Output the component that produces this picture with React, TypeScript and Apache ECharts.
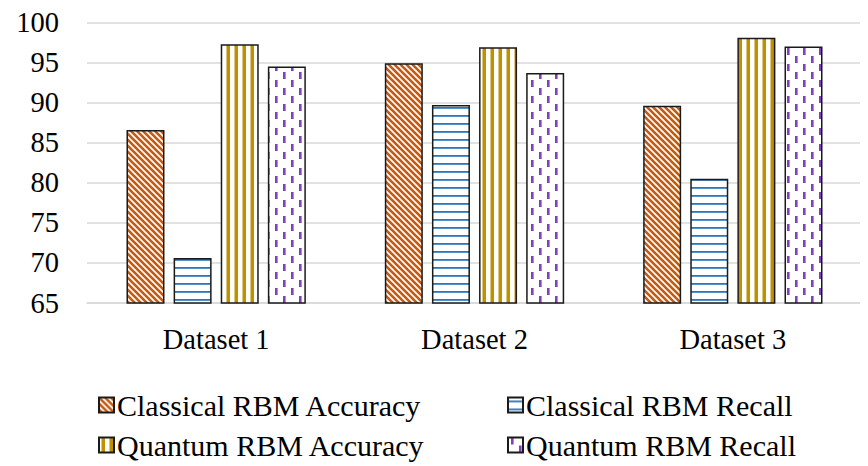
import React, { useEffect, useRef } from "react";
import * as echarts from "echarts";

const categories = ["Dataset 1", "Dataset 2", "Dataset 3"];
const seriesNames = [
  "Classical RBM Accuracy",
  "Classical RBM Recall",
  "Quantum RBM Accuracy",
  "Quantum RBM Recall",
];
const classicalAccuracy = [86.6, 94.9, 89.6];
const classicalRecall = [70.6, 89.7, 80.5];
const quantumAccuracy = [97.3, 96.9, 98.1];
const quantumRecall = [94.5, 93.7, 97.0];
const yTicks = { min: 65, max: 100, interval: 5 };

function makeCanvas(w: number, h: number, draw: (ctx: CanvasRenderingContext2D) => void) {
  const c = document.createElement("canvas");
  c.width = w;
  c.height = h;
  const ctx = c.getContext("2d")!;
  ctx.fillStyle = "#ffffff";
  ctx.fillRect(0, 0, w, h);
  draw(ctx);
  return c;
}

function diagPattern() {
  const s = 6;
  return makeCanvas(s, s, (ctx) => {
    ctx.strokeStyle = "#C55A11";
    ctx.lineWidth = 2.6;
    ctx.beginPath();
    for (let k = -1; k <= 1; k++) {
      ctx.moveTo(k * s - 1, -1);
      ctx.lineTo(k * s + s + 1, s + 1);
    }
    ctx.stroke();
  });
}

function horizPattern() {
  return makeCanvas(8, 8, (ctx) => {
    ctx.fillStyle = "#2E75B6";
    ctx.fillRect(0, 3, 8, 1.8);
  });
}

function vertPattern() {
  return makeCanvas(8, 8, (ctx) => {
    ctx.fillStyle = "#BF9000";
    ctx.fillRect(2.5, 0, 3.5, 8);
  });
}

function dashPattern() {
  return makeCanvas(16, 16, (ctx) => {
    ctx.fillStyle = "#7F3FBF";
    ctx.fillRect(3, 0, 2.6, 7);
    ctx.fillRect(11, 8, 2.6, 7);
  });
}

export default function App() {
  const ref = useRef<HTMLDivElement>(null);
  useEffect(() => {
    if (!ref.current) return;
    const chart = echarts.init(ref.current, undefined, { renderer: "svg" });
    const patterns = [diagPattern(), horizPattern(), vertPattern(), dashPattern()];
    const datas = [classicalAccuracy, classicalRecall, quantumAccuracy, quantumRecall];
    const font = "'Liberation Serif', 'Times New Roman', serif";
    const series = seriesNames.map((name, i) => ({
      name,
      type: "bar",
      data: datas[i],
      barWidth: 38,
      barGap: "24%",
      itemStyle: {
        color: { image: patterns[i], repeat: "repeat" },
        borderColor: "#1a1a1a",
        borderWidth: 1.5,
      },
    }));
    const legendPos = [
      { left: 90, top: 382 },
      { left: 499, top: 382 },
      { left: 90, top: 422 },
      { left: 499, top: 422 },
    ];
    const legends = seriesNames.map((name, i) => ({
      data: [name],
      left: legendPos[i].left,
      top: legendPos[i].top,
      padding: 0,
      itemWidth: 15,
      itemHeight: 15,
      icon: "rect",
      textStyle: { fontFamily: font, fontSize: 30, color: "#000", padding: [0, 0, 0, -2] },
    }));
    chart.setOption({
      animation: false,
      grid: { left: 79, right: 6, top: 13, bottom: 163, containLabel: false },
      xAxis: {
        type: "category",
        data: categories,
        axisLine: { show: true, lineStyle: { color: "#d9d9d9", width: 1.5 } },
        axisTick: { show: false },
        axisLabel: { fontFamily: font, fontSize: 28.5, color: "#000", margin: 22 },
      },
      yAxis: {
        type: "value",
        min: yTicks.min,
        max: yTicks.max,
        interval: yTicks.interval,
        axisLine: { show: false },
        axisTick: { show: false },
        splitLine: { lineStyle: { color: "#d9d9d9", width: 1.5 } },
        axisLabel: { fontFamily: font, fontSize: 28.5, color: "#000", margin: 28 },
      },
      legend: legends,
      series,
    });
    return () => chart.dispose();
  }, []);
  return <div ref={ref} style={{ width: 860, height: 458 }} />;
}
